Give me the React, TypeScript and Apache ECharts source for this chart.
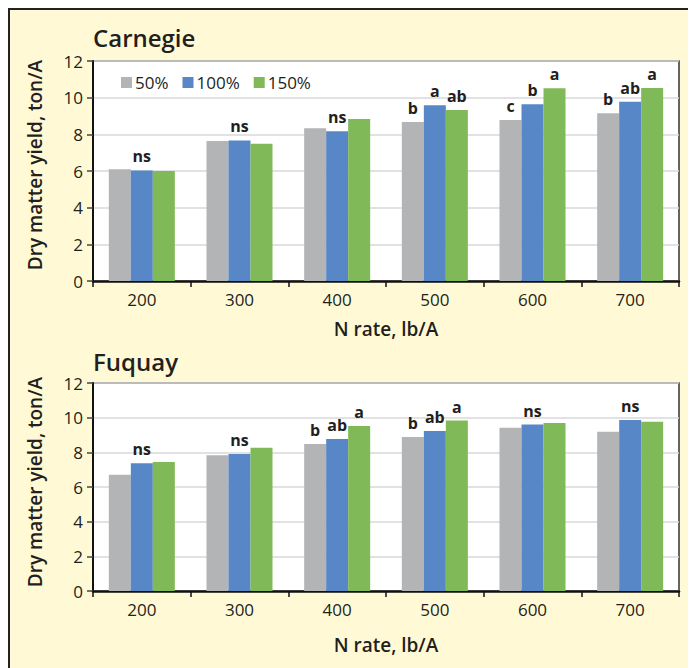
import React, { useEffect, useRef } from "react";
import * as echarts from "echarts";

const categories = ["200", "300", "400", "500", "600", "700"];
const seriesNames = ["50%", "100%", "150%"];

const carnegie50 = [6.1, 7.64, 8.33, 8.67, 8.78, 9.15];
const carnegie100 = [6.03, 7.67, 8.17, 9.58, 9.64, 9.78];
const carnegie150 = [6.0, 7.49, 8.84, 9.33, 10.51, 10.53];

const carnegieLetters50 = ["", "", "", "b", "c", "b"];
const carnegieLetters100 = ["ns", "ns", "ns", "a", "b", "ab"];
const carnegieLetters150 = ["", "", "", "ab", "a", "a"];

const fuquay50 = [6.71, 7.83, 8.48, 8.89, 9.42, 9.19];
const fuquay100 = [7.37, 7.9, 8.77, 9.23, 9.6, 9.87];
const fuquay150 = [7.44, 8.27, 9.52, 9.83, 9.69, 9.77];

const fuquayLetters50 = ["", "", "b", "b", "", ""];
const fuquayLetters100 = ["ns", "ns", "ab", "ab", "ns", "ns"];
const fuquayLetters150 = ["", "", "a", "a", "", ""];

const yTicks = { min: 0, max: 12, interval: 2 };

const colors = ["#b3b4b6", "#5787c6", "#80b957"];
const textColor = "#231f20";
const FONT = "'Open Sans', 'Noto Sans', sans-serif";

export default function App() {
  const ref = useRef<HTMLDivElement>(null);

  useEffect(() => {
    if (!ref.current) return;
    const chart = echarts.init(ref.current, undefined, { renderer: "svg" });

    const makeBar = (
      name: string,
      data: number[],
      letters: string[],
      idx: number,
      colorIdx: number
    ) => ({
      type: "bar",
      name,
      xAxisIndex: idx,
      yAxisIndex: idx,
      data,
      barWidth: 22,
      barGap: "0%",
      itemStyle: { color: colors[colorIdx] },
      label: {
        show: true,
        position: "top",
        distance: 6,
        formatter: (p: any) => letters[p.dataIndex],
        fontFamily: FONT,
        fontSize: 16,
        fontWeight: "bold",
        color: textColor,
      },
    });

    const xAxis = (gridIndex: number) => ({
      type: "category",
      gridIndex,
      data: categories,
      axisLine: { show: true, lineStyle: { color: "#111", width: 2.5 } },
      axisTick: { show: true, length: 6, lineStyle: { color: "#111", width: 1.5 } },
      axisLabel: { color: textColor, fontSize: 17, fontFamily: FONT, fontWeight: 500, margin: 10 },
      splitLine: { show: false },
    });

    const yAxis = (gridIndex: number) => ({
      type: "value",
      gridIndex,
      min: yTicks.min,
      max: yTicks.max,
      interval: yTicks.interval,
      axisLine: { show: true, lineStyle: { color: "#111", width: 2 } },
      axisTick: { show: true, length: 6, lineStyle: { color: "#444", width: 1.5 } },
      axisLabel: { color: textColor, fontSize: 17, fontFamily: FONT, fontWeight: 500, margin: 10 },
      splitLine: { show: true, lineStyle: { color: "#d9d9d9", width: 1.5 } },
    });

    const txt = (
      text: string,
      x: number,
      y: number,
      size: number,
      align: string,
      rotation = 0
    ) => ({
      type: "text",
      x,
      y,
      rotation,
      style: {
        text,
        fill: textColor,
        font: `600 ${size}px ${FONT}`,
        fontSize: size,
        fontWeight: 600,
        fontFamily: FONT,
        align,
        verticalAlign: "middle",
        textAlign: align,
        textVerticalAlign: "middle",
      },
    });

    chart.setOption({
      animation: false,
      backgroundColor: "transparent",
      textStyle: { fontFamily: FONT },
      grid: [
        {
          left: 83,
          top: 51,
          width: 586,
          height: 220,
          show: true,
          backgroundColor: "#ffffff",
          borderColor: "#333",
          borderWidth: 1.5,
        },
        {
          left: 83,
          top: 373,
          width: 586,
          height: 208,
          show: true,
          backgroundColor: "#ffffff",
          borderColor: "#333",
          borderWidth: 1.5,
        },
      ],
      legend: {
        show: true,
        data: seriesNames,
        left: 106,
        top: 59,
        itemWidth: 11,
        itemHeight: 11,
        itemGap: 14,
        icon: "rect",
        textStyle: { color: textColor, fontSize: 17, fontFamily: FONT, fontWeight: 500, padding: [0, 0, 0, -2] },
      },
      xAxis: [xAxis(0), xAxis(1)],
      yAxis: [yAxis(0), yAxis(1)],
      series: [
        makeBar(seriesNames[0], carnegie50, carnegieLetters50, 0, 0),
        makeBar(seriesNames[1], carnegie100, carnegieLetters100, 0, 1),
        makeBar(seriesNames[2], carnegie150, carnegieLetters150, 0, 2),
        makeBar(seriesNames[0] + " ", fuquay50, fuquayLetters50, 1, 0),
        makeBar(seriesNames[1] + " ", fuquay100, fuquayLetters100, 1, 1),
        makeBar(seriesNames[2] + " ", fuquay150, fuquayLetters150, 1, 2),
      ],
      graphic: [
        txt("Carnegie", 83, 27, 24, "left"),
        txt("Fuquay", 83, 351, 24, "left"),
        txt("Dry matter yield, ton/A", 25, 155, 19, "center", Math.PI / 2),
        txt("Dry matter yield, ton/A", 25, 472, 19, "center", Math.PI / 2),
        txt("N rate, lb/A", 376, 319, 19, "center"),
        txt("N rate, lb/A", 376, 635, 19, "center"),
      ],
    });

    return () => chart.dispose();
  }, []);

  return (
    <div
      style={{
        width: 686,
        height: 658,
        background: "#fffad5",
        borderTop: "2px solid #222",
        borderLeft: "2px solid #222",
      }}
    >
      <div ref={ref} style={{ width: 686, height: 658 }} />
    </div>
  );
}
